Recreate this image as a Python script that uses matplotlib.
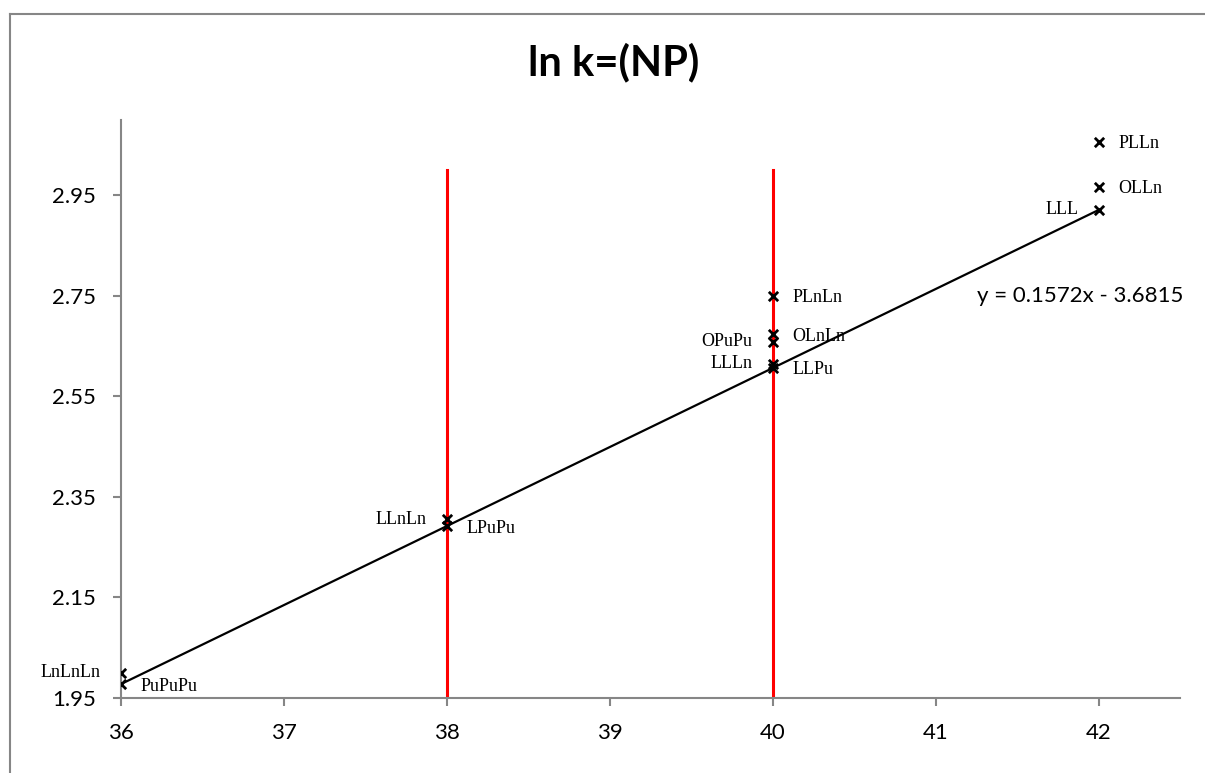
import numpy as np
import matplotlib.pyplot as plt
from matplotlib.lines import Line2D

# --- data ---
np_num = [36, 36, 38, 38, 40, 40, 40, 40, 40, 42, 42, 42]
ln_k = [1.977, 2.000, 2.292, 2.306, 2.607, 2.615, 2.659, 2.674, 2.750, 2.921, 2.967, 3.057]
names = ["PuPuPu", "LnLnLn", "LPuPu", "LLnLn", "LLPu", "LLLn",
         "OPuPu", "OLnLn", "PLnLn", "LLL", "OLLn", "PLLn"]

# trend line (Excel linear trendline)
slope = 0.1572
intercept = -3.6815
trend_x = [36, 42]

# red reference lines
vlines_x = [38, 40]
vline_top = 3.0

x_ticks = [36, 37, 38, 39, 40, 41, 42]
y_ticks = [1.95, 2.15, 2.35, 2.55, 2.75, 2.95]

# which side each label sits on
left_side = {"LnLnLn", "LLnLn", "OPuPu", "LLLn", "LLL"}

W, H = 1205, 773
fig = plt.figure(figsize=(W / 100, H / 100), dpi=100)
ax = fig.add_axes([121 / W, 1 - 698 / H, (1180 - 121) / W, (698 - 120) / H])

gray = "#868686"

# chart area border (left + top visible)
fig.add_artist(Line2D([10 / W, 10 / W], [0, 1 - 14 / H], color=gray, lw=1.5))
fig.add_artist(Line2D([10 / W, 1], [1 - 14 / H, 1 - 14 / H], color=gray, lw=1.5))

for xv in vlines_x:
    ax.plot([xv, xv], [1.95, vline_top], color="#ff0000", lw=2.2, zorder=1)

tx = np.array(trend_x, dtype=float)
ax.plot(tx, slope * tx + intercept, color="black", lw=1.6, zorder=2)

ax.scatter(np_num, ln_k, marker="x", color="black", s=45, linewidths=2.0, zorder=3)

for xv, yv, nm in zip(np_num, ln_k, names):
    if nm in left_side:
        ax.annotate(nm, (xv, yv), xytext=(-20, 0), textcoords="offset pixels",
                    ha="right", va="center", fontsize=13, family="Liberation Serif")
    else:
        ax.annotate(nm, (xv, yv), xytext=(20, -2), textcoords="offset pixels",
                    ha="left", va="center", fontsize=13, family="Liberation Serif")

ax.text(42.52, 2.75, "y = 0.1572x - 3.6815", ha="right", va="center",
        fontsize=16, family="Lato")

ax.set_xlim(36, 42.5)
ax.set_ylim(1.95, 3.1)
ax.set_xticks(x_ticks)
ax.set_yticks(y_ticks)
ax.set_xticklabels([str(v) for v in x_ticks], family="Lato", fontsize=16)
ax.set_yticklabels([f"{v:.2f}" for v in y_ticks], family="Lato", fontsize=16)

for s in ["top", "right"]:
    ax.spines[s].set_visible(False)
for s in ["left", "bottom"]:
    ax.spines[s].set_color(gray)
    ax.spines[s].set_linewidth(1.5)
ax.tick_params(axis="both", colors="black", length=6, width=1.5, pad=12)
ax.tick_params(axis="both", color=gray)
ax.tick_params(axis="x", pad=12)

fig.text(614 / W, 1 - 62 / H, "ln k=(NP)", ha="center", va="center",
         fontsize=30, fontweight="bold", family="Lato")

fig.savefig("out.png", dpi=100)
